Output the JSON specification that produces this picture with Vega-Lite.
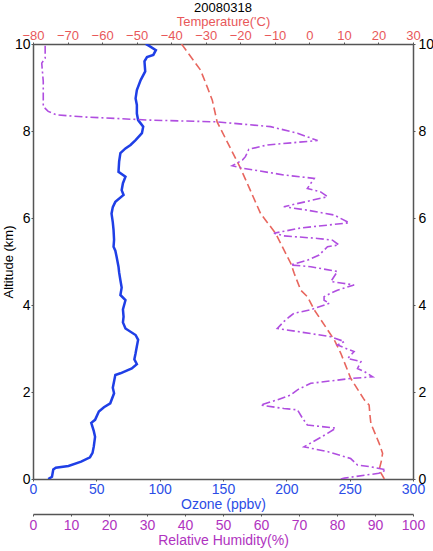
{
  "$schema": "https://vega.github.io/schema/vega-lite/v6.json",
  "autosize": {"type": "none"},
  "width": 380,
  "height": 435,
  "padding": {"left": 33, "top": 44, "right": 20, "bottom": 72},
  "background": "white",
  "config": {
    "font": "Liberation Sans",
    "view": {"stroke": null},
    "axis": {
      "grid": false,
      "domainColor": "#555555",
      "domainWidth": 1.5,
      "tickColor": "#555555",
      "tickSize": 2,
      "labelFontSize": 14,
      "titleFontSize": 14,
      "titleFontWeight": "normal",
      "labelFlush": false,
      "labelOverlap": false
    }
  },
  "title": {
    "text": "20080318",
    "fontSize": 13,
    "fontWeight": "normal",
    "color": "#000000",
    "offset": 0,
    "anchor": "middle"
  },
  "datasets": {
    "ozone": [
      {"alt": 0.0, "o3": 12},
      {"alt": 0.05, "o3": 15},
      {"alt": 0.22, "o3": 16},
      {"alt": 0.26, "o3": 18},
      {"alt": 0.3, "o3": 28},
      {"alt": 0.4, "o3": 38},
      {"alt": 0.5, "o3": 45},
      {"alt": 0.6, "o3": 47},
      {"alt": 0.75, "o3": 48},
      {"alt": 0.97, "o3": 49},
      {"alt": 1.1, "o3": 48},
      {"alt": 1.29, "o3": 46},
      {"alt": 1.36, "o3": 49},
      {"alt": 1.55, "o3": 52},
      {"alt": 1.65, "o3": 56},
      {"alt": 1.74, "o3": 61},
      {"alt": 1.97, "o3": 64},
      {"alt": 2.1, "o3": 63},
      {"alt": 2.39, "o3": 65},
      {"alt": 2.43, "o3": 69},
      {"alt": 2.54, "o3": 78},
      {"alt": 2.64, "o3": 82},
      {"alt": 2.75, "o3": 80},
      {"alt": 2.89, "o3": 81},
      {"alt": 3.05, "o3": 82},
      {"alt": 3.2, "o3": 83},
      {"alt": 3.31, "o3": 81},
      {"alt": 3.46, "o3": 73},
      {"alt": 3.6, "o3": 71},
      {"alt": 3.73, "o3": 71.5},
      {"alt": 3.9, "o3": 71},
      {"alt": 4.11, "o3": 73},
      {"alt": 4.23, "o3": 69},
      {"alt": 4.4, "o3": 70},
      {"alt": 4.57, "o3": 69},
      {"alt": 4.75, "o3": 68},
      {"alt": 4.88, "o3": 67.5},
      {"alt": 5.11, "o3": 66},
      {"alt": 5.25, "o3": 65},
      {"alt": 5.34, "o3": 63.6},
      {"alt": 5.5, "o3": 64},
      {"alt": 5.72, "o3": 63.6},
      {"alt": 5.9, "o3": 63},
      {"alt": 6.1, "o3": 62},
      {"alt": 6.25, "o3": 63},
      {"alt": 6.37, "o3": 65},
      {"alt": 6.53, "o3": 71.5},
      {"alt": 6.64, "o3": 70},
      {"alt": 6.8, "o3": 71},
      {"alt": 6.95, "o3": 73},
      {"alt": 7.06, "o3": 67.5},
      {"alt": 7.3, "o3": 68},
      {"alt": 7.49, "o3": 69},
      {"alt": 7.6, "o3": 73},
      {"alt": 7.68, "o3": 77},
      {"alt": 7.79, "o3": 81},
      {"alt": 7.95, "o3": 86},
      {"alt": 8.1, "o3": 87},
      {"alt": 8.25, "o3": 83},
      {"alt": 8.4, "o3": 82},
      {"alt": 8.6, "o3": 82},
      {"alt": 8.75, "o3": 81},
      {"alt": 8.94, "o3": 82},
      {"alt": 9.17, "o3": 85},
      {"alt": 9.37, "o3": 88.6},
      {"alt": 9.6, "o3": 88},
      {"alt": 9.7, "o3": 90},
      {"alt": 9.75, "o3": 95},
      {"alt": 9.86, "o3": 97},
      {"alt": 9.95, "o3": 92},
      {"alt": 10.0, "o3": 89}
    ],
    "temp": [
      {"alt": 0.0, "t": 21.7},
      {"alt": 0.1, "t": 21},
      {"alt": 0.21, "t": 20.2},
      {"alt": 0.4, "t": 20.8},
      {"alt": 0.59, "t": 21.2},
      {"alt": 0.82, "t": 20.2},
      {"alt": 1.05, "t": 19},
      {"alt": 1.28, "t": 17.8},
      {"alt": 1.5, "t": 17.5},
      {"alt": 1.7, "t": 17.3},
      {"alt": 1.82, "t": 15.9},
      {"alt": 2.31, "t": 12},
      {"alt": 2.89, "t": 9.1},
      {"alt": 3.2, "t": 7.2},
      {"alt": 3.89, "t": 1.4},
      {"alt": 4.19, "t": -0.55},
      {"alt": 4.34, "t": -2.5},
      {"alt": 4.73, "t": -4.4},
      {"alt": 4.96, "t": -5.4},
      {"alt": 5.65, "t": -9.8},
      {"alt": 6.1, "t": -14.1},
      {"alt": 7.14, "t": -19.9},
      {"alt": 8.21, "t": -26.7},
      {"alt": 8.71, "t": -28.1},
      {"alt": 9.02, "t": -29.6},
      {"alt": 9.4, "t": -31.5},
      {"alt": 10.0, "t": -37}
    ],
    "rh": [
      {"alt": 0.0, "rh": 81},
      {"alt": 0.02, "rh": 82},
      {"alt": 0.09, "rh": 87.5},
      {"alt": 0.13, "rh": 91},
      {"alt": 0.21, "rh": 92.9},
      {"alt": 0.28, "rh": 88.9},
      {"alt": 0.32, "rh": 85.4},
      {"alt": 0.47, "rh": 83.6},
      {"alt": 0.63, "rh": 77.5},
      {"alt": 0.74, "rh": 71.3},
      {"alt": 0.97, "rh": 76},
      {"alt": 1.05, "rh": 77.5},
      {"alt": 1.17, "rh": 79.7},
      {"alt": 1.24, "rh": 72.2},
      {"alt": 1.4, "rh": 70.9},
      {"alt": 1.59, "rh": 69.6},
      {"alt": 1.62, "rh": 66},
      {"alt": 1.7, "rh": 59.9},
      {"alt": 1.82, "rh": 64.3},
      {"alt": 1.93, "rh": 67.8},
      {"alt": 2.05, "rh": 69.6},
      {"alt": 2.2, "rh": 73.1},
      {"alt": 2.31, "rh": 83.6},
      {"alt": 2.35, "rh": 89.4},
      {"alt": 2.47, "rh": 87.2},
      {"alt": 2.54, "rh": 85.4},
      {"alt": 2.7, "rh": 86.3},
      {"alt": 2.77, "rh": 82.8},
      {"alt": 2.93, "rh": 84.5},
      {"alt": 3.08, "rh": 80.1},
      {"alt": 3.16, "rh": 81.9},
      {"alt": 3.27, "rh": 78.4},
      {"alt": 3.39, "rh": 69.6},
      {"alt": 3.46, "rh": 64.3},
      {"alt": 3.62, "rh": 66},
      {"alt": 3.73, "rh": 67.5},
      {"alt": 3.81, "rh": 68.7},
      {"alt": 3.89, "rh": 73.1},
      {"alt": 4.04, "rh": 78},
      {"alt": 4.11, "rh": 76.6},
      {"alt": 4.19, "rh": 76.6},
      {"alt": 4.28, "rh": 78.5},
      {"alt": 4.34, "rh": 80.1},
      {"alt": 4.46, "rh": 84.5},
      {"alt": 4.5, "rh": 81.5},
      {"alt": 4.54, "rh": 78.4},
      {"alt": 4.77, "rh": 80.1},
      {"alt": 4.88, "rh": 73.1},
      {"alt": 4.92, "rh": 67.8},
      {"alt": 5.03, "rh": 72.2},
      {"alt": 5.15, "rh": 75.3},
      {"alt": 5.34, "rh": 77.5},
      {"alt": 5.38, "rh": 80.5},
      {"alt": 5.49, "rh": 78.8},
      {"alt": 5.53, "rh": 74.9},
      {"alt": 5.59, "rh": 66},
      {"alt": 5.65, "rh": 63.4},
      {"alt": 5.77, "rh": 70.4},
      {"alt": 5.89, "rh": 83.2},
      {"alt": 6.07, "rh": 79.2},
      {"alt": 6.18, "rh": 72.2},
      {"alt": 6.26, "rh": 66},
      {"alt": 6.49, "rh": 77.5},
      {"alt": 6.6, "rh": 75.7},
      {"alt": 6.68, "rh": 72.2},
      {"alt": 6.91, "rh": 74},
      {"alt": 6.99, "rh": 66},
      {"alt": 7.14, "rh": 55.5},
      {"alt": 7.2, "rh": 52.4},
      {"alt": 7.33, "rh": 55.1},
      {"alt": 7.41, "rh": 55.9},
      {"alt": 7.58, "rh": 56.8},
      {"alt": 7.68, "rh": 61.7},
      {"alt": 7.78, "rh": 74.9},
      {"alt": 7.95, "rh": 69.6},
      {"alt": 8.1, "rh": 62.5},
      {"alt": 8.21, "rh": 48.5},
      {"alt": 8.25, "rh": 30.9},
      {"alt": 8.32, "rh": 14},
      {"alt": 8.37, "rh": 6.2},
      {"alt": 8.45, "rh": 4},
      {"alt": 8.52, "rh": 3.2},
      {"alt": 8.56, "rh": 2.7},
      {"alt": 9.14, "rh": 2.7},
      {"alt": 9.56, "rh": 2.3},
      {"alt": 9.67, "rh": 3.2},
      {"alt": 10.0, "rh": 3.2}
    ]
  },
  "layer": [
    {
      "data": {"name": "ozone"},
      "mark": {"type": "line", "color": "#1f3fe6", "strokeWidth": 2.5, "clip": true},
      "encoding": {
        "x": {
          "field": "o3", "type": "quantitative",
          "scale": {"domain": [0, 300], "nice": false, "zero": false},
          "axis": {
            "orient": "bottom", "title": "Ozone (ppbv)",
            "values": [0, 50, 100, 150, 200, 250, 300],
            "labelColor": "#2b4de6", "titleColor": "#2b4de6",
            "labelPadding": 1, "titlePadding": 1
          }
        },
        "y": {
          "field": "alt", "type": "quantitative",
          "scale": {"domain": [0, 10], "nice": false},
          "axis": {
            "orient": "left", "title": "Altitude (km)",
            "values": [0, 2, 4, 6, 8, 10],
            "labelColor": "#000000", "titleColor": "#000000",
            "labelPadding": 1, "titleFontSize": 13,
            "titleX": -25, "titleBaseline": "middle"
          }
        },
        "order": {"field": "alt", "type": "quantitative"}
      }
    },
    {
      "data": {"name": "temp"},
      "mark": {"type": "line", "color": "#e8665e", "strokeWidth": 1.6, "strokeDash": [8, 4], "clip": true},
      "encoding": {
        "x": {
          "field": "t", "type": "quantitative",
          "scale": {"domain": [-80, 30], "nice": false, "zero": false},
          "axis": {
            "orient": "top", "title": "Temperature('C)",
            "values": [-80, -70, -60, -50, -40, -30, -20, -10, 0, 10, 20, 30],
            "labelColor": "#e8585a", "titleColor": "#e8585a",
            "labelFontSize": 13, "titleFontSize": 13,
            "labelPadding": 0, "titleY": -16, "titleBaseline": "bottom"
          }
        },
        "y": {
          "field": "alt", "type": "quantitative",
          "scale": {"domain": [0, 10], "nice": false},
          "axis": null
        },
        "order": {"field": "alt", "type": "quantitative"}
      }
    },
    {
      "data": {"name": "rh"},
      "mark": {"type": "line", "color": "#b04ee0", "strokeWidth": 1.6, "strokeDash": [8, 3, 2, 3], "clip": true},
      "encoding": {
        "x": {
          "field": "rh", "type": "quantitative",
          "scale": {"domain": [0, 100], "nice": false, "zero": false},
          "axis": {
            "orient": "bottom", "offset": 35, "title": "Relative Humidity(%)",
            "values": [0, 10, 20, 30, 40, 50, 60, 70, 80, 90, 100],
            "labelColor": "#b033c0", "titleColor": "#b033c0",
            "labelPadding": 2, "titlePadding": 1
          }
        },
        "y": {
          "field": "alt", "type": "quantitative",
          "scale": {"domain": [0, 10], "nice": false},
          "axis": {
            "orient": "right", "title": null,
            "values": [0, 2, 4, 6, 8, 10],
            "labelColor": "#000000",
            "labelPadding": 3
          }
        },
        "order": {"field": "alt", "type": "quantitative"}
      }
    }
  ],
  "resolve": {
    "scale": {"x": "independent", "y": "independent"},
    "axis": {"x": "independent", "y": "independent"}
  }
}
